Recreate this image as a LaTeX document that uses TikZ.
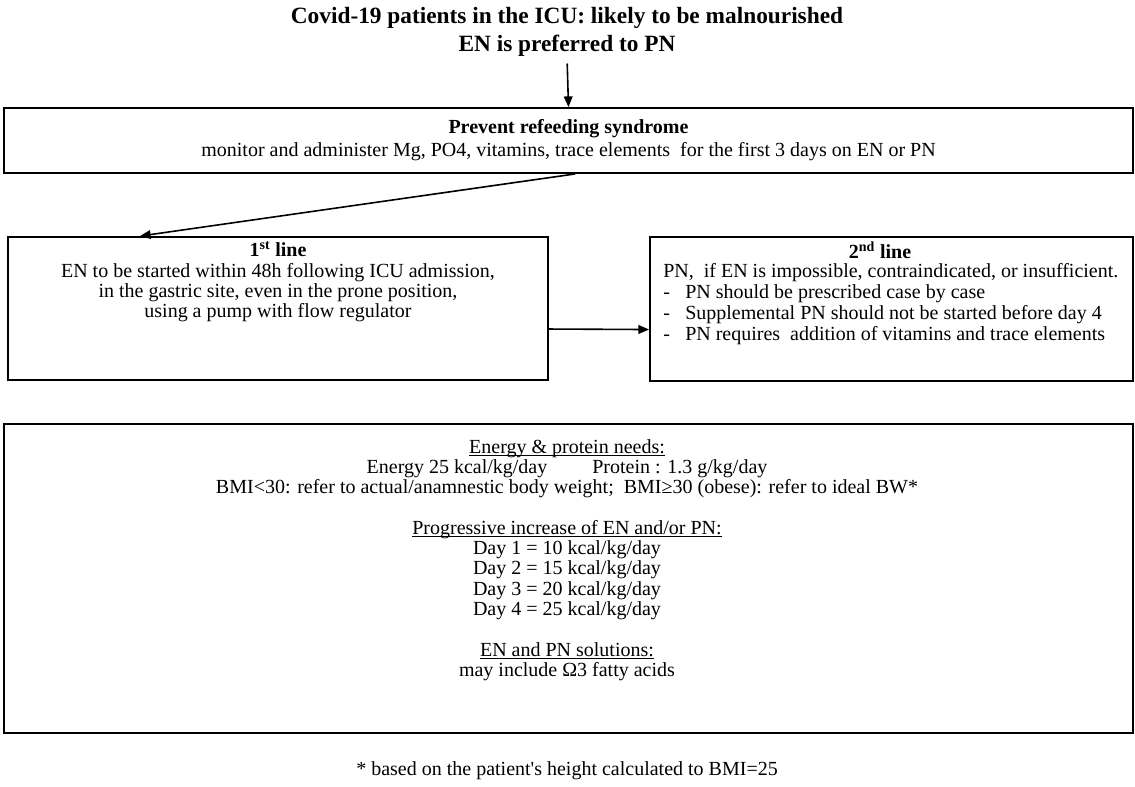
\documentclass[tikz,border=0pt]{standalone}
\usepackage{fontspec}
\setmainfont{Liberation Serif}
\usetikzlibrary{arrows.meta}
\newcommand\myul[1]{\underline{\smash{#1}}}
\begin{document}
\begin{tikzpicture}[x=0.75pt,y=-0.75pt,
  box/.style={draw, line width=1.4pt, inner sep=0pt},
  arr/.style={-{Triangle[length=8pt,width=6.5pt]}, line width=1.2pt},
  body/.style={inner sep=0pt, font=\fontsize{15}{15.3}\selectfont},
  ttl/.style={inner sep=0pt, align=center, font=\bfseries\fontsize{17.5}{21}\selectfont}]
\useasboundingbox (0,0) rectangle (1135,787);
\node[ttl] (title) at (567,32) {Covid-19 patients in the ICU: likely to be malnourished\\EN is preferred to PN};
\node[box, minimum width=846.75pt, minimum height=48.75pt, align=center,
  font=\fontsize{15}{17.3}\selectfont] (refeed) at (568.5,140.5)
  {\textbf{Prevent refeeding syndrome}\\monitor and administer Mg, PO4, vitamins, trace elements\ \ for the first 3 days on EN or PN};
\node[box, minimum width=405pt, minimum height=107.25pt] (first) at (278,308.5) {};
\node[box, minimum width=362.25pt, minimum height=108pt] (second) at (891.5,309) {};
\node[box, minimum width=846.75pt, minimum height=231.75pt] (needs) at (568.5,578.5) {};
\node[body, align=center] (firsttxt) at (278,282)
  {\textbf{1\textsuperscript{st} line}\\EN to be started within 48h following ICU admission,\\in the gastric site, even in the prone position,\\using a pump with flow regulator};
\node[body, align=center] (secondhead) at (880,250) {\textbf{2\textsuperscript{nd} line}};
\node[body, align=left, anchor=north west, font=\fontsize{15}{15.75}\selectfont] (secondtxt) at (663,263)
  {PN,\ \ if EN is impossible, contraindicated, or insufficient.\\
   \makebox[16.5pt][l]{-}PN should be prescribed case by case\\
   \makebox[16.5pt][l]{-}Supplemental PN should not be started before day 4\\
   \makebox[16.5pt][l]{-}PN requires\ \ addition of vitamins and trace elements};
\node[body, align=center, font=\fontsize{15}{15.2}\selectfont] (needstxt) at (567,567)
  {\myul{Energy \& protein needs:}\\
   Energy 25 kcal/kg/day\hspace{30pt} Protein : 1.3 g/kg/day\\
   BMI<30: refer to actual/anamnestic body weight;\ \ BMI≥30 (obese): refer to ideal BW*\\
   ~\\
   \myul{Progressive increase of EN and/or PN:}\\
   Day 1 = 10 kcal/kg/day\\
   Day 2 = 15 kcal/kg/day\\
   Day 3 = 20 kcal/kg/day\\
   Day 4 = 25 kcal/kg/day\\
   ~\\
   \myul{EN and PN solutions:}\\
   may include Ω3 fatty acids};
\node[body] (foot) at (567,771) {* based on the patient\textquotesingle s height calculated to BMI=25};
\draw[arr, shorten <=5pt] (title.south) -- (refeed.north);
\draw[arr] ([xshift=5pt]refeed.south) -- ([xshift=-103.5pt]first.north);
\draw[arr] ([yshift=-15.4pt]first.east) -- ([yshift=-15.4pt]second.west);
\end{tikzpicture}
\end{document}
